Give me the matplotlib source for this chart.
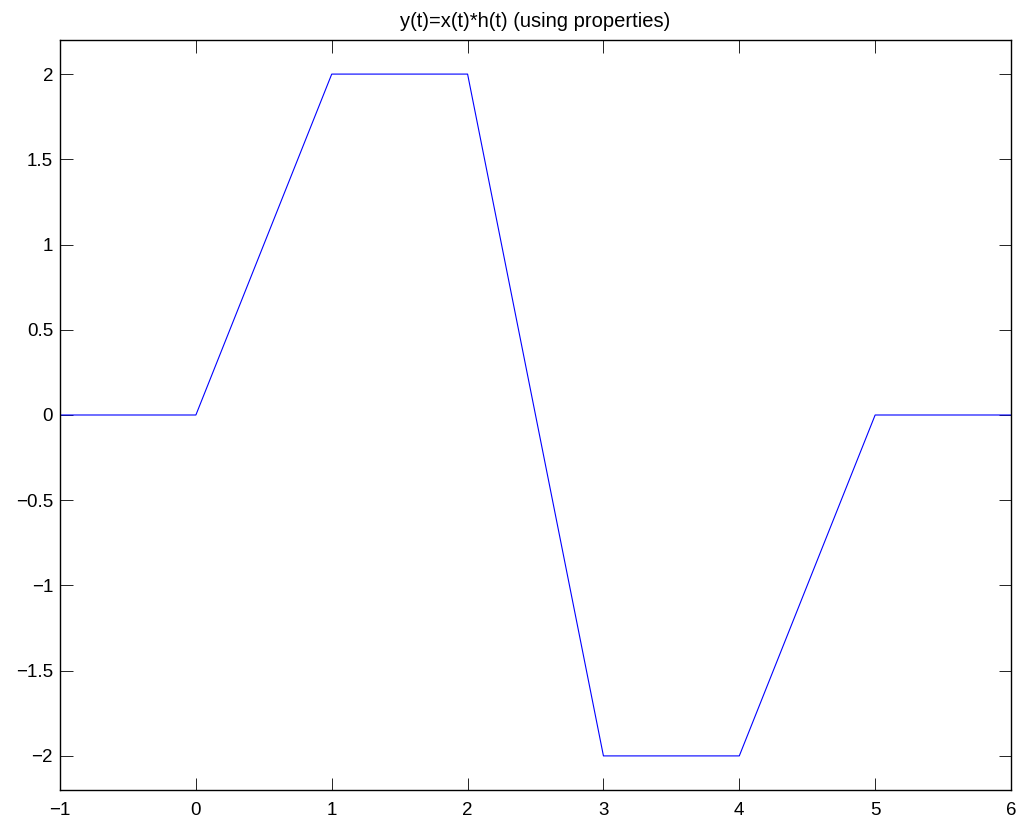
import matplotlib
matplotlib.use('Agg')
import matplotlib.pyplot as plt

# signal values y(t) at the breakpoints
t = [-1, 0, 1, 2, 3, 4, 5, 6]
y = [0, 0, 2, 2, -2, -2, 0, 0]

xticks = [-1, 0, 1, 2, 3, 4, 5, 6]
yticks = [-2, -1.5, -1, -0.5, 0, 0.5, 1, 1.5, 2]

plt.rcParams['font.family'] = ['Liberation Sans', 'DejaVu Sans']
plt.rcParams['font.size'] = 13.5

fig = plt.figure(figsize=(10.21, 8.23), dpi=100)
ax = fig.add_axes([0.0588, 0.0401, 0.9314, 0.9113])

ax.plot(t, y, '-', color='#0000ff', linewidth=0.8)

ax.set_xlim(-1, 6)
ax.set_ylim(-2.2, 2.2)
ax.set_xticks(xticks)
ax.set_yticks(yticks)
ax.set_yticklabels([('%g' % v).replace('-', '\u2212') for v in yticks])
ax.set_xticklabels([('%g' % v).replace('-', '\u2212') for v in xticks])
ax.tick_params(direction='in', top=True, right=True, length=9, width=0.6)
ax.tick_params(axis='x', pad=9)
ax.tick_params(axis='y', pad=5)
for s in ax.spines.values():
    s.set_linewidth(1.0)
ax.set_title("y(t)=x(t)*h(t) (using properties)", fontsize=14.5, pad=9)

fig.savefig('out.png', dpi=100)
